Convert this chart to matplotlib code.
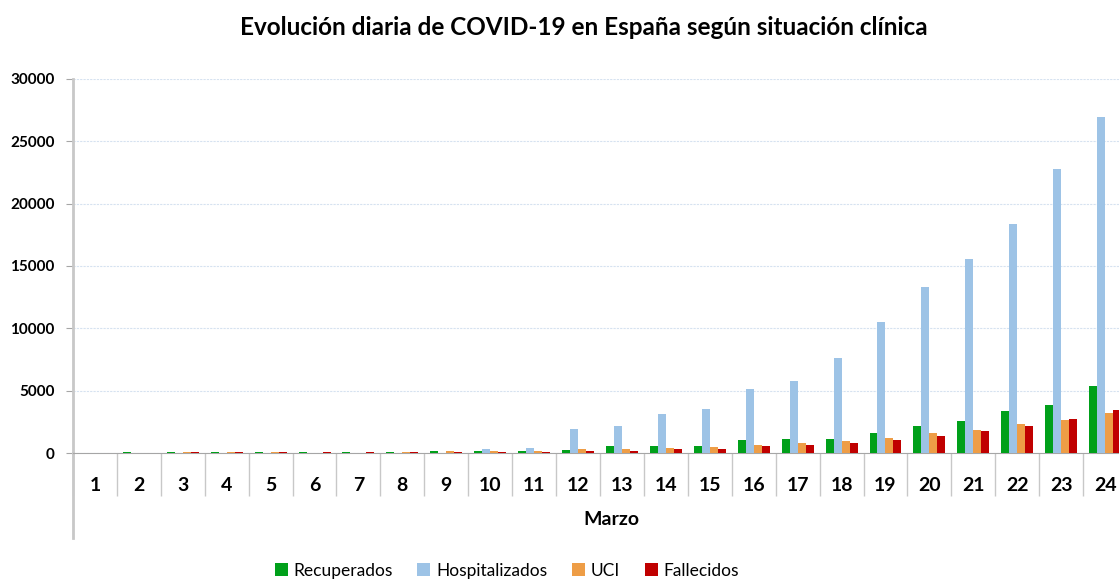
import matplotlib.pyplot as plt
import numpy as np

plt.rcParams['font.family'] = ['Lato', 'DejaVu Sans']

# Datos diarios (marzo)
dias = [str(d) for d in range(1, 25)]
recuperados = [0, 120, 120, 120, 120, 120, 120, 120, 150, 200, 200, 220, 560, 560,
               560, 1070, 1120, 1120, 1630, 2140, 2590, 3390, 3850, 5370]
hospitalizados = [0, 0, 0, 0, 0, 0, 0, 0, 0, 320, 440, 1930, 2140, 3100,
                  3500, 5160, 5780, 7640, 10530, 13310, 15580, 18370, 22800, 26970]
uci = [0, 0, 120, 120, 120, 0, 0, 120, 150, 150, 200, 330, 330, 420,
       500, 620, 830, 990, 1180, 1630, 1820, 2350, 2670, 3230]
fallecidos = [0, 0, 120, 120, 120, 120, 120, 120, 120, 120, 120, 180, 180, 340,
              340, 600, 660, 770, 1070, 1360, 1760, 2190, 2730, 3450]

series = [
    ('Recuperados', recuperados, '#00a01a'),
    ('Hospitalizados', hospitalizados, '#9dc3e6'),
    ('UCI', uci, '#ee9d46'),
    ('Fallecidos', fallecidos, '#c00000'),
]

fig = plt.figure(figsize=(11.19, 5.79), dpi=100)
ax = fig.add_axes([0.0652, 0.2176, 0.942, 0.646])

x = np.arange(len(dias))
w = 0.182
for i, (nombre, vals, color) in enumerate(series):
    ax.bar(x + (i - 1.5) * w, vals, width=w, color=color, label=nombre,
           linewidth=0, zorder=3)

ax.set_xlim(-0.5, len(dias) - 0.5)
ax.set_ylim(0, 30000)
ax.set_yticks(np.arange(0, 30001, 5000))
ax.tick_params(axis='y', length=5, color='#a6a6a6', labelsize=11, pad=8)
for t in ax.get_yticklabels():
    t.set_fontweight('bold')

ax.grid(axis='y', color='#d6e2f0', linestyle=(0, (2, 1)), linewidth=0.8, zorder=0)

# category boundaries as long ticks, labels at centres
ax.set_xticks(np.arange(-0.5, len(dias), 1))
ax.set_xticklabels([])
ax.tick_params(axis='x', which='major', length=31, color='#c8c8c8', width=1)
ax.set_xticks(x, minor=True)
ax.set_xticklabels(dias, minor=True, fontsize=14, fontweight='bold')
ax.tick_params(axis='x', which='minor', length=0, pad=17)

for s in ['top', 'right']:
    ax.spines[s].set_visible(False)
ax.spines['bottom'].set_color('#a6a6a6')
ax.spines['left'].set_color('#c8c8c8')
ax.spines['left'].set_linewidth(2)
ax.plot([0, 0], [0, -0.227], transform=ax.transAxes, color='#c8c8c8',
        linewidth=2, clip_on=False)

fig.text(0.5465, 0.102, 'Marzo', ha='center', va='center', fontsize=14,
         fontweight='bold')
fig.suptitle('Evolución diaria de COVID-19 en España según situación clínica',
             x=0.522, y=0.972, fontsize=17.5, fontweight='bold')

fig.legend(loc='center', bbox_to_anchor=(0.453, 0.014), ncol=4, frameon=False,
           fontsize=12.5, handlelength=0.75, handleheight=0.75, handletextpad=0.35,
           columnspacing=1.4)

fig.savefig('out.png', dpi=100)
